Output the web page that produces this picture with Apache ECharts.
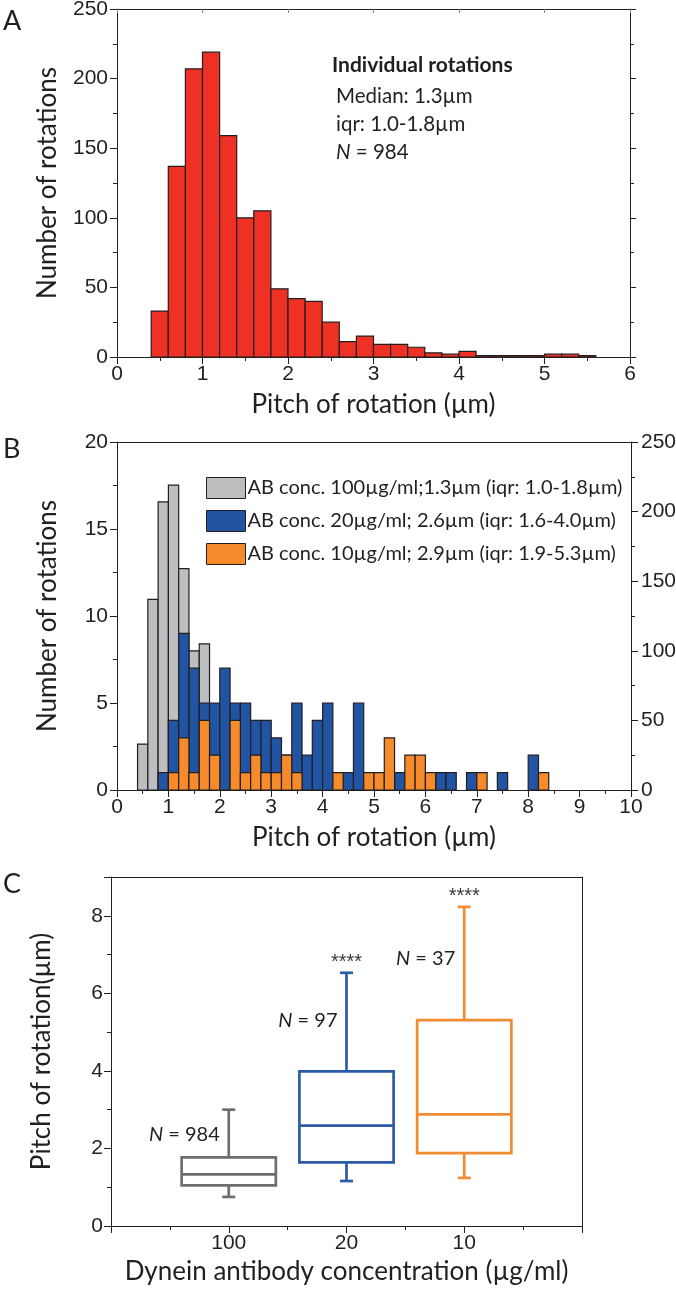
<!DOCTYPE html>
<html><head><meta charset="utf-8">
<script src="https://cdn.jsdelivr.net/npm/echarts@6/dist/echarts.min.js"></script>
<style>html,body{margin:0;padding:0;background:#fff}#c{width:676px;height:1294px}</style>
</head><body><div id="c"></div>
<script>
// ---------- DATA ----------
// Panel A (and grey series of panel B): individual rotations, 0.2 µm bins (left edges)
const binWidth = 0.2;
const binStartsA = [0.4,0.6,0.8,1.0,1.2,1.4,1.6,1.8,2.0,2.2,2.4,2.6,2.8,3.0,3.2,3.4,3.6,3.8,4.0,4.2,4.4,4.6,4.8,5.0,5.2,5.4];
const countsA    = [33,137,207,219,159,100,105,49,42,40,25,11,15,9,9,7,3,2,4,1,1,1,1,2,2,1];
// Panel B: 20 µg/ml and 10 µg/ml
const binStartsB = [0.8,1.0,1.2,1.4,1.6,1.8,2.0,2.2,2.4,2.6,2.8,3.0,3.2,3.4,3.6,3.8,4.0,4.2,4.4,4.6,4.8,5.0,5.2,5.4,5.6,5.8,6.0,6.2,6.4,6.6,6.8,7.0,7.2,7.4,7.6,7.8,8.0,8.2];
const counts20   = [1,4,9,7,5,5,7,5,5,4,4,3,2,5,2,4,5,0,1,5,0,0,0,1,0,0,0,1,1,0,1,0,0,1,0,0,2,0];
const counts10   = [0,1,3,1,4,2,0,4,1,2,1,1,2,1,0,0,0,1,0,0,1,1,3,0,2,2,1,0,0,0,0,1,0,0,0,0,0,1];
const legendNames = ['AB conc. 100µg/ml;1.3µm (iqr: 1.0-1.8µm)','AB conc. 20µg/ml; 2.6µm (iqr: 1.6-4.0µm)','AB conc. 10µg/ml; 2.9µm (iqr: 1.9-5.3µm)'];
// Panel C: box plot
const boxCategories = ['100','20','10'];
const boxLow    = [0.75,1.16,1.24];
const boxQ1     = [1.05,1.64,1.88];
const boxMedian = [1.33,2.59,2.88];
const boxQ3     = [1.77,3.99,5.31];
const boxHigh   = [3.00,6.53,8.23];
const boxN      = ['984','97','37'];
const boxStars  = ['','****','****'];

// ---------- STYLE ----------
const ink = '#231f20';
const tickFont = 'Liberation Sans';
const titleFont = 'Lato';
const red = '#ee3124', grey = '#bcbec0', blue = '#2155a4', orange = '#f58b2b';
const boxColors = ['#6d6e71','#2b5aa8','#f28c34'];
const tickSize = 21, titleSize = 26;

function vAxis(o) {
  const base = {
    type:'value', splitLine:{show:false},
    axisLine:{show:true, onZero:false, lineStyle:{color:ink, width:1}},
    axisTick:{show:true, length:7, lineStyle:{color:ink, width:1}},
    minorTick:{show:true, splitNumber:2, length:4, lineStyle:{color:ink, width:1}},
    axisLabel:{show:true, color:ink, fontFamily:tickFont, fontSize:tickSize, margin:7},
    nameTextStyle:{color:ink, fontFamily:titleFont, fontSize:titleSize},
    nameLocation:'middle'
  };
  return Object.assign(base, o);
}
function mirror(o) {
  return vAxis(Object.assign({axisLabel:{show:false}}, o));
}
function hist(name, starts, counts, color, xi, yi) {
  return {
    type:'custom', name, xAxisIndex:xi, yAxisIndex:yi,
    itemStyle:{color, borderColor:ink, borderWidth:1},
    data: starts.map((s,i)=>[s, s+binWidth, counts[i]]),
    encode:{x:[0,1], y:2},
    renderItem(params, api) {
      const c = api.value(2);
      if (!c) return null;
      const p0 = api.coord([api.value(0), c]);
      const p1 = api.coord([api.value(1), 0]);
      return {type:'rect', shape:{x:p0[0], y:p0[1], width:p1[0]-p0[0], height:p1[1]-p0[1]},
              style:{fill:color, stroke:ink, lineWidth:1.2}};
    }
  };
}

const chart = echarts.init(document.getElementById('c'));
chart.setOption({
  animation:false,
  backgroundColor:'#fff',
  grid:[
    {left:117, top:9,   width:513, height:348, outerBoundsMode:'none'},
    {left:117, top:442, width:514, height:348, outerBoundsMode:'none'},
    {left:111, top:877, width:471, height:349, outerBoundsMode:'none'}
  ],
  xAxis:[
    vAxis({gridIndex:0, min:0, max:6, interval:1, name:'Pitch of rotation (µm)', nameGap:35}),
    mirror({gridIndex:0, position:'top', min:0, max:6, interval:1,
            axisTick:{show:true, inside:true, length:4, lineStyle:{color:'#888'}},
            minorTick:{show:false}}),
    vAxis({gridIndex:1, min:0, max:10, interval:1, name:'Pitch of rotation (µm)', nameGap:35}),
    mirror({gridIndex:1, position:'top', min:0, max:10, interval:1, axisTick:{show:false}, minorTick:{show:false}}),
    vAxis({gridIndex:2, min:0, max:4, interval:1, name:'Dynein antibody concentration (µg/ml)', nameGap:33,
           axisLabel:{show:true, color:ink, fontFamily:tickFont, fontSize:tickSize, margin:7,
                      formatter:v=> (v>=1 && v<=boxCategories.length) ? boxCategories[v-1] : ''}}),
    mirror({gridIndex:2, position:'top', min:0, max:4, axisTick:{show:false}, minorTick:{show:false}})
  ],
  yAxis:[
    vAxis({gridIndex:0, min:0, max:250, interval:50, name:'Number of rotations', nameGap:56,
           axisLabel:{show:true, color:ink, fontFamily:tickFont, fontSize:tickSize, margin:9}}),
    mirror({gridIndex:0, position:'right', min:0, max:250, interval:50, axisTick:{show:true, length:6, lineStyle:{color:ink}}}),
    vAxis({gridIndex:1, min:0, max:20, interval:5, name:'Number of rotations', nameGap:56,
           axisLabel:{show:true, color:ink, fontFamily:tickFont, fontSize:tickSize, margin:9}}),
    vAxis({gridIndex:1, position:'right', min:0, max:250, interval:50,
           axisLabel:{show:true, color:ink, fontFamily:tickFont, fontSize:tickSize, margin:10}}),
    vAxis({gridIndex:2, min:0, max:9, interval:2, name:'Pitch of rotation(µm)', nameGap:56,
           axisLabel:{show:true, color:ink, fontFamily:tickFont, fontSize:tickSize, margin:8, showMaxLabel:false}}),
    mirror({gridIndex:2, position:'right', min:0, max:9, interval:2, axisTick:{show:false}, minorTick:{show:false}})
  ],
  legend:{
    data:legendNames, orient:'vertical', left:206, top:477, padding:0, itemWidth:39, itemHeight:21, itemGap:11,
    icon:'rect', selectedMode:false,
    itemStyle:{borderColor:ink, borderWidth:1},
    textStyle:{color:ink, fontFamily:titleFont, fontSize:20, padding:[0,0,0,-3]}
  },
  graphic:[
    {type:'text', left:3, top:8, style:{text:'A', font:'27px Lato', fill:ink}},
    {type:'text', left:3, top:436, style:{text:'B', font:'27px Lato', fill:ink}},
    {type:'text', left:3, top:871, style:{text:'C', font:'27px Lato', fill:ink}},
    {type:'text', left:332, top:55, style:{text:'Individual rotations', font:'bold 21px Lato', fill:ink}},
    {type:'text', left:336, top:86, style:{text:'Median: 1.3µm', font:'20.5px Lato', fill:ink}},
    {type:'text', left:336, top:114, style:{text:'iqr: 1.0-1.8µm', font:'20.5px Lato', fill:ink}},
    {type:'text', left:336, top:142, style:{
      text:'{i|N} = 984', font:'20.5px Lato', fill:ink,
      rich:{i:{fontStyle:'italic', fontFamily:'Lato', fontSize:20.5, fill:ink}}}}
  ],
  series:[
    hist('A', binStartsA, countsA, red, 0, 0),
    hist(legendNames[0], binStartsA, countsA, grey, 2, 3),
    hist(legendNames[1], binStartsB, counts20, blue, 2, 2),
    hist(legendNames[2], binStartsB, counts10, orange, 2, 2),
    {
      type:'custom', name:'box', xAxisIndex:4, yAxisIndex:4,
      data: boxCategories.map((c,i)=>[i+1, boxLow[i], boxQ1[i], boxMedian[i], boxQ3[i], boxHigh[i]]),
      encode:{x:0, y:[1,2,3,4,5]},
      renderItem(params, api) {
        const x = api.value(0);
        const band = api.size([1,0])[0];
        const hw = band*0.4, cw = band*0.055;
        const col = boxColors[params.dataIndex];
        const P = v => api.coord([x, v]);
        const lo = P(api.value(1)), q1 = P(api.value(2)), md = P(api.value(3)), q3 = P(api.value(4)), hi = P(api.value(5));
        const st = {stroke:col, lineWidth:2.7, fill:null};
        const cx = lo[0];
        return {type:'group', children:[
          {type:'line', shape:{x1:cx, y1:lo[1], x2:cx, y2:q1[1]}, style:st},
          {type:'line', shape:{x1:cx, y1:q3[1], x2:cx, y2:hi[1]}, style:st},
          {type:'line', shape:{x1:cx-cw, y1:lo[1], x2:cx+cw, y2:lo[1]}, style:st},
          {type:'line', shape:{x1:cx-cw, y1:hi[1], x2:cx+cw, y2:hi[1]}, style:st},
          {type:'rect', shape:{x:cx-hw, y:q3[1], width:2*hw, height:q1[1]-q3[1]}, style:{stroke:col, lineWidth:2.7, fill:'none'}},
          {type:'line', shape:{x1:cx-hw, y1:md[1], x2:cx+hw, y2:md[1]}, style:st}
        ]};
      }
    },
    {
      type:'scatter', xAxisIndex:4, yAxisIndex:4, symbolSize:0, silent:true,
      itemStyle:{opacity:1, color:ink},
      data: boxN.map((n,i)=>({value:[i+1, [2.37,5.3,6.9][i]], label:{formatter:'{i|N} = '+n}})),
      label:{show:true, position:'left', distance:9, color:ink, opacity:1, fontFamily:titleFont, fontSize:20,
             rich:{i:{fontStyle:'italic', fontFamily:titleFont, fontSize:20, color:ink}}}
    },
    {
      type:'scatter', xAxisIndex:4, yAxisIndex:4, symbolSize:0, silent:true,
      itemStyle:{opacity:1, color:'#3a3a3a'},
      data: boxStars.map((s,i)=>({value:[i+1, boxHigh[i]], label:{formatter:s}})),
      label:{show:true, position:'top', distance:0, color:'#3a3a3a', opacity:1, fontFamily:tickFont, fontSize:20}
    }
  ]
});
</script></body></html>
